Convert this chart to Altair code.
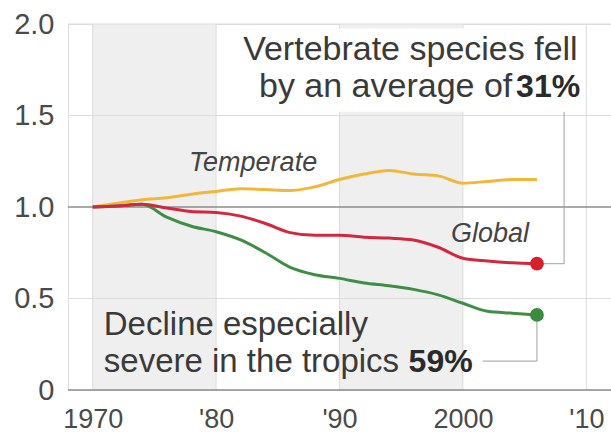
import altair as alt
import pandas as pd

FONT = "Liberation Sans"

# Index values (1970 = 1.0), sampled every two years
years = [1970, 1972, 1974, 1976, 1978, 1980, 1982, 1984, 1986, 1988,
         1990, 1992, 1994, 1996, 1998, 2000, 2002, 2004, 2006]
temperate = [1.00, 1.02, 1.04, 1.05, 1.07, 1.085, 1.10, 1.095, 1.09, 1.11,
             1.15, 1.18, 1.20, 1.18, 1.17, 1.13, 1.14, 1.15, 1.15]
global_idx = [1.00, 1.005, 1.015, 0.995, 0.975, 0.97, 0.95, 0.91, 0.86, 0.845,
              0.845, 0.835, 0.83, 0.82, 0.78, 0.72, 0.705, 0.695, 0.69]
tropical = [1.00, 1.005, 1.015, 0.945, 0.895, 0.865, 0.82, 0.75, 0.67, 0.63,
            0.61, 0.585, 0.57, 0.55, 0.52, 0.474, 0.43, 0.42, 0.41]

series_names = ["Temperate", "Tropical", "Global"]
series_values = [temperate, tropical, global_idx]
series_colors = ["#f1b73a", "#3f8e46", "#d2283f"]

# Shaded decades
band_start = [1970, 1990]
band_end = [1980, 2000]

# Axis ticks
x_ticks = [1970, 1980, 1990, 2000, 2010]
x_tick_labels = ["1970", "'80", "'90", "2000", "'10"]
y_ticks = [0, 0.5, 1.0, 1.5, 2.0]
y_tick_labels = ["0", "0.5", "1.0", "1.5", "2.0"]

# Annotation texts
headline = ["Vertebrate species fell", "by an average of", "31%"]
tropics_note = ["Decline especially", "severe in the tropics", "59%"]

# ---------------------------------------------------------------------------
rows = []
for name, vals in zip(series_names, series_values):
    for yr, v in zip(years, vals):
        rows.append({"year": yr, "value": v, "series": name})
lines_df = pd.DataFrame(rows)

x_scale = alt.Scale(domain=[1968, 2012], nice=False, zero=False)
y_scale = alt.Scale(domain=[0, 2], nice=False, zero=False)


def expr_from(ticks, labels):
    parts = [f'datum.value == {t} ? "{l}"' for t, l in zip(ticks, labels)]
    return " : ".join(parts) + ' : ""'


x_axis = alt.Axis(values=x_ticks, labelExpr=expr_from(x_ticks, x_tick_labels),
                  grid=False, domain=False, ticks=False, title=None,
                  labelFont=FONT, labelFontSize=27, labelColor="#4a4a4a",
                  labelPadding=16, labelFlush=False, labelOverlap=False)
y_axis = alt.Axis(values=y_ticks, labelExpr=expr_from(y_ticks, y_tick_labels),
                  grid=False, domain=False, ticks=False, title=None,
                  labelFont=FONT, labelFontSize=29, labelColor="#4a4a4a",
                  labelPadding=14, labelFlush=False, labelOverlap=False)


def X(field):
    return alt.X(field, type="quantitative", scale=x_scale, axis=x_axis)


def Y(field):
    return alt.Y(field, type="quantitative", scale=y_scale, axis=y_axis)


# shaded decades
bands = alt.Chart(pd.DataFrame({"start": band_start, "end": band_end,
                                "lo": [0, 0], "hi": [2, 2]})).mark_rect(
    color="#efefef").encode(x=X("start"), x2="end", y=Y("lo"), y2="hi")

# light grid
vgrid = alt.Chart(pd.DataFrame({"year": x_ticks})).mark_rule(
    color="#dcdcdc", strokeWidth=1).encode(x=X("year"))
hgrid = alt.Chart(pd.DataFrame({"value": [0.5, 1.5, 2.0]})).mark_rule(
    color="#dcdcdc", strokeWidth=1).encode(y=Y("value"))

# white backing for the headline
box = alt.Chart(pd.DataFrame({"x0": [1982.7], "x1": [2009.7],
                              "y0": [1.52], "y1": [1.975]})).mark_rect(
    color="white").encode(x=X("x0"), x2="x1", y=Y("y0"), y2="y1")

# baseline and the 1.0 reference
ref_one = alt.Chart(pd.DataFrame({"value": [1.0]})).mark_rule(
    color="#8c8c8c", strokeWidth=1.3).encode(y=Y("value"))
ref_zero = alt.Chart(pd.DataFrame({"value": [0.0]})).mark_rule(
    color="#8c8c8c", strokeWidth=1.6).encode(y=Y("value"))

# leader lines from the end points to the notes
g_end, t_end = global_idx[-1], tropical[-1]
end_year = years[-1]
leaders = pd.DataFrame({
    "x0": [end_year, 2008.2, end_year, 2001.6],
    "x1": [2008.2, 2008.2, end_year, end_year],
    "y0": [g_end, g_end, t_end, 0.158],
    "y1": [g_end, 1.52, 0.158, 0.158],
})
leader = alt.Chart(leaders).mark_rule(color="#a0a0a0", strokeWidth=1).encode(
    x=X("x0"), x2="x1", y=Y("y0"), y2="y1")

layers = [bands, vgrid, hgrid, box, ref_one, ref_zero, leader]

for name, color in zip(series_names, series_colors):
    ln = alt.Chart(lines_df).transform_filter(
        alt.datum.series == name).mark_line(
        color=color, strokeWidth=3, interpolate="monotone").encode(
        x=X("year"), y=Y("value"))
    layers.append(ln)

dots = alt.Chart(pd.DataFrame({
    "year": [end_year, end_year], "value": [g_end, t_end],
    "series": ["Global", "Tropical"]})).mark_circle(size=190, opacity=1).encode(
    x=X("year"), y=Y("value"),
    color=alt.Color("series:N", scale=alt.Scale(domain=["Global", "Tropical"],
                                                range=["#d6202c", "#3b8c3f"]),
                    legend=None))
layers.append(dots)


def text_layer(df, **kw):
    style = dict(font=FONT, color="#3a3a3a", baseline="alphabetic")
    style.update(kw)
    return alt.Chart(df).mark_text(**style).encode(
        x=X("x"), y=Y("y"), text="t:N")


# series labels
layers.append(text_layer(pd.DataFrame({"x": [1983.0, 2002.2], "y": [1.195, 0.809],
                                       "t": ["Temperate", "Global"]}),
                         fontSize=27, fontStyle="italic", align="center",
                         color="#444444"))
# headline, right aligned
layers.append(text_layer(pd.DataFrame({"x": [2009.3], "y": [1.803],
                                       "t": [headline[0]]}),
                         fontSize=34, align="right"))
layers.append(text_layer(pd.DataFrame({"x": [2004.0], "y": [1.601],
                                       "t": [headline[1]]}),
                         fontSize=34, align="right"))
layers.append(text_layer(pd.DataFrame({"x": [2009.5], "y": [1.601],
                                       "t": [headline[2]]}),
                         fontSize=32, fontWeight="bold", align="right",
                         color="#2a2a2a"))
# tropics note, left aligned
layers.append(text_layer(pd.DataFrame({"x": [1970.9, 1970.9], "y": [0.30, 0.098],
                                       "t": tropics_note[:2]}),
                         fontSize=33, align="left"))
layers.append(text_layer(pd.DataFrame({"x": [1995.6], "y": [0.098],
                                       "t": [tropics_note[2]]}),
                         fontSize=32, fontWeight="bold", align="left",
                         color="#2a2a2a"))

chart = alt.layer(*layers).properties(
    width=543, height=366,
    autosize=alt.AutoSizeParams(type="none"),
    padding={"left": 68, "top": 24, "right": 0, "bottom": 42},
).configure_view(stroke=None).configure(background="white")

chart.save("out.html", embed_options={"renderer": "svg", "actions": False})
